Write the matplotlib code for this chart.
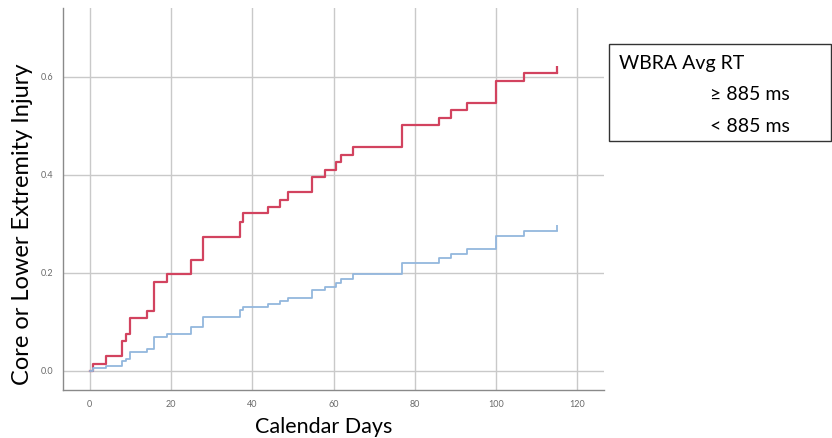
import matplotlib.pyplot as plt
from matplotlib.patches import Rectangle

plt.rcParams['font.family'] = ['Lato', 'DejaVu Sans']

# step times (days), shared by both curves, and end of follow-up
days = [0, 0.8, 3.9, 8.0, 8.8, 9.9, 14.0, 15.8, 19.0, 25.0, 27.9, 36.9, 37.8,
        43.9, 46.8, 48.8, 54.8, 58.0, 60.7, 61.8, 64.9, 76.9, 86.0, 88.9,
        92.9, 99.9, 106.9]
last_day = 115.1

# >= 885 ms
slow_rt = [0, 0.015, 0.030, 0.061, 0.076, 0.107, 0.122, 0.182, 0.197, 0.227,
           0.273, 0.304, 0.321, 0.334, 0.349, 0.364, 0.395, 0.410, 0.426,
           0.441, 0.456, 0.501, 0.516, 0.531, 0.547, 0.592, 0.608]
# < 885 ms
fast_rt = [0, 0.005, 0.010, 0.020, 0.025, 0.039, 0.044, 0.070, 0.076, 0.090,
           0.110, 0.124, 0.130, 0.136, 0.143, 0.149, 0.164, 0.172, 0.180,
           0.188, 0.197, 0.221, 0.230, 0.239, 0.248, 0.276, 0.285]

x_ticks = [0, 20, 40, 60, 80, 100, 120]
y_ticks = [0.0, 0.2, 0.4, 0.6]

red = '#d2435f'
blue = '#93b7dd'

fig = plt.figure(figsize=(8.32, 4.38), dpi=100)
ax = fig.add_axes([63 / 832, 1 - 390 / 438, (604 - 63) / 832, (390 - 8) / 438])

for vals, color, lw in [(slow_rt, red, 1.6), (fast_rt, blue, 1.3)]:
    xs = days + [last_day]
    ys = vals + [vals[-1]]
    ax.step(xs, ys, where='post', color=color, lw=lw, zorder=3)
    # censor tick at the end
    ax.vlines(last_day, vals[-1], vals[-1] + 0.013, color=color, lw=lw, zorder=3)

ax.set_xlim(-6.6, 126.6)
ax.set_ylim(-0.039, 0.74)
ax.set_xticks(x_ticks)
ax.set_yticks(y_ticks)
ax.set_yticklabels([f'{v:.1f}' for v in y_ticks])
ax.grid(True, color='#c9c9c9', lw=1.0, zorder=0)
ax.tick_params(length=0, labelsize=6.5, labelcolor='#6a6a6a', pad=7)
for side in ['top', 'right']:
    ax.spines[side].set_visible(False)
for side in ['left', 'bottom']:
    ax.spines[side].set_color('#8a8a8a')
    ax.spines[side].set_linewidth(1.0)

# axis titles placed like in the source picture
fig.text(324 / 832, 1 - 433 / 438, 'Calendar Days', fontsize=15.5,
         ha='center', va='baseline')
fig.text(23 / 832, 1 - 224 / 438, 'Core or Lower Extremity Injury',
         fontsize=17, rotation=90, ha='center', va='center')

# legend box (text only)
fig.patches.append(Rectangle((609 / 832, 1 - 141 / 438), 222 / 832, 97 / 438,
                             transform=fig.transFigure, fill=False,
                             edgecolor='#333333', lw=1.0))
fig.text(619 / 832, 1 - 64 / 438, 'WBRA Avg RT', fontsize=14, va='center')
fig.text(710 / 832, 1 - 95 / 438, '≥ 885 ms', fontsize=14, va='center')
fig.text(710 / 832, 1 - 126 / 438, '< 885 ms', fontsize=14, va='center')

fig.savefig('out.png', dpi=100)
